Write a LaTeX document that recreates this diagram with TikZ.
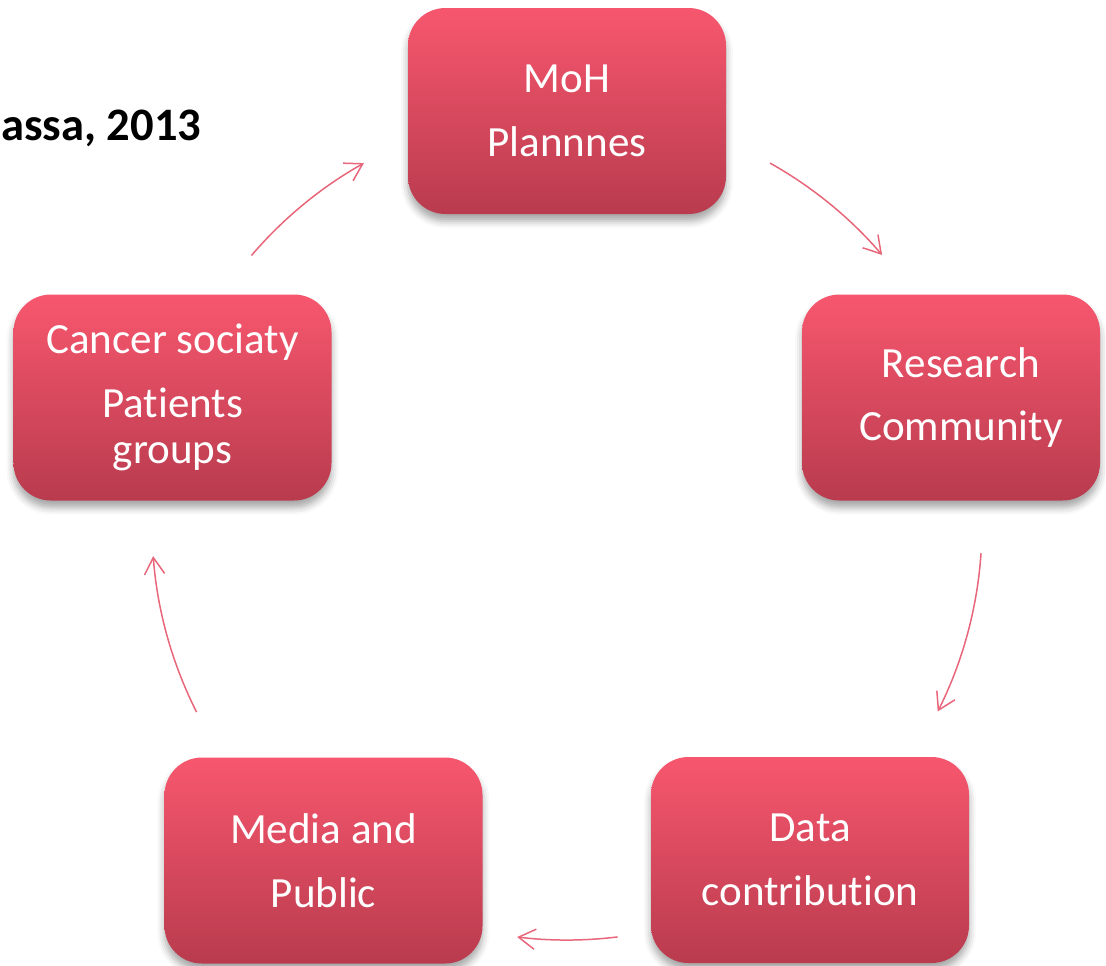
\documentclass[tikz,border=0pt]{standalone}
\usepackage{fontspec}
\setmainfont{Carlito}[Ligatures=NoCommon]
\usetikzlibrary{arrows.meta,shadows.blur}

\definecolor{boxtop}{RGB}{247,87,110}
\definecolor{boxbot}{RGB}{185,59,78}
\definecolor{flowpink}{RGB}{232,102,122}

\tikzset{
  stage/.style={rectangle, rounded corners=0.75cm, draw=none,
    top color=boxtop, bottom color=boxbot,
    minimum width=6.36cm, minimum height=4.12cm,
    text=white, align=center,
    font=\fontsize{24.5}{36.4}\selectfont,
    blur shadow={shadow xshift=0pt, shadow yshift=-4pt,
      shadow blur radius=4pt, shadow opacity=35}},
  flow/.style={draw=flowpink, line width=0.85pt,
    -{Straight Barb[length=9.5pt, width=11.5pt, line width=0.85pt]}}
}

\begin{document}
\begin{tikzpicture}
  \useasboundingbox (0,0) rectangle (22.12,-19.3);

  \node[anchor=base west, inner xsep=0.5pt, font=\fontsize{26.5}{30}\selectfont\bfseries]
    (cite) at (0,-2.8) {assa, 2013};

  \coordinate (hub) at (11.34,-10.5);

  \node[stage] (moh) at (11.34,-2.22) {MoH\\Plannnes};
  \node[stage, minimum width=5.96cm] (research) at (19.02,-7.95) {\hspace*{0.4cm}Research\\\hspace*{0.4cm}Community};
  \node[stage] (data) at (16.2,-17.2) {Data\\contribution};
  \node[stage] (media) at (6.47,-17.21) {Media and\\Public};
  \node[stage, font=\fontsize{24.5}{26}\selectfont] (society) at (3.45,-7.95)
    {Cancer sociaty\\[10.4pt]Patients\\groups};

  \begin{scope}[flow]
    \draw ([shift={(139.5:8.3)}]hub) arc[start angle=139.5, end angle=119.3, radius=8.3];
    \draw ([shift={(60.7:8.3)}]hub) arc[start angle=60.7, end angle=40.6, radius=8.3];
    \draw ([shift={(-3.9:8.3)}]hub) arc[start angle=-3.9, end angle=-26.7, radius=8.3];
    \draw ([shift={(-83:8.3)}]hub) arc[start angle=-83, end angle=-96.9, radius=8.3];
    \draw ([shift={(206.8:8.3)}]hub) arc[start angle=206.8, end angle=184.3, radius=8.3];
  \end{scope}
\end{tikzpicture}
\end{document}
